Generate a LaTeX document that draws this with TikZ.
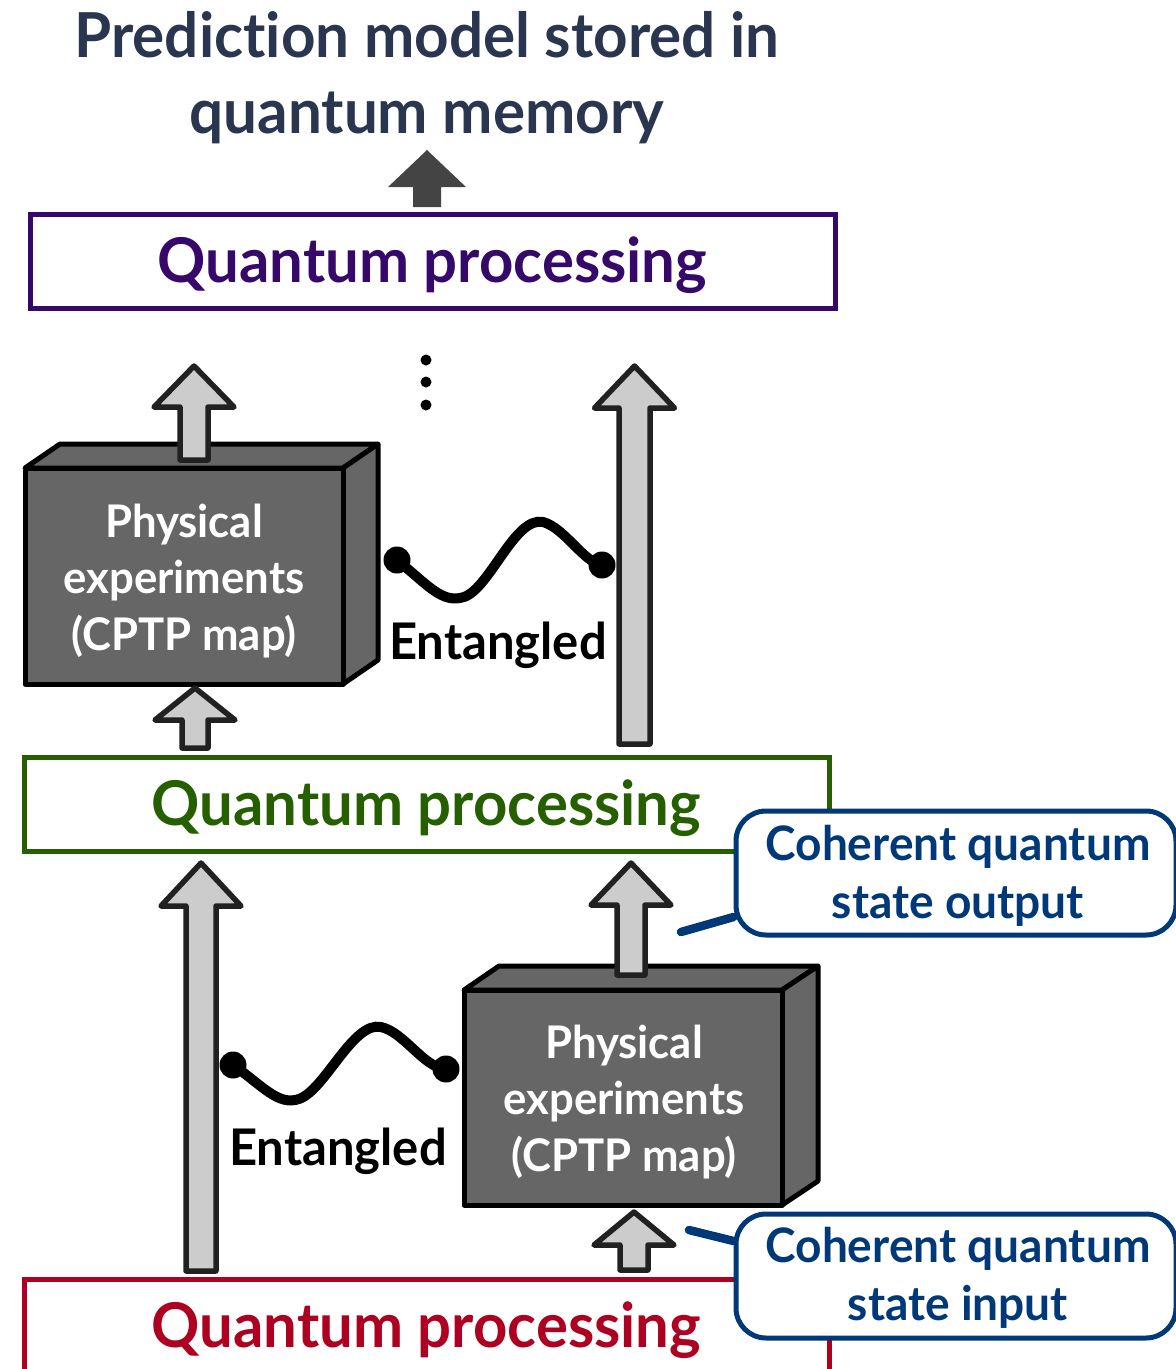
\documentclass[tikz,border=0pt]{standalone}
\usepackage{fontspec}
\setmainfont{Lato}[Ligatures=NoCommon,FakeStretch=0.97]
\definecolor{titlecol}{HTML}{2A3550}
\definecolor{purplecol}{HTML}{35086A}
\definecolor{greencol}{HTML}{255F00}
\definecolor{redcol}{HTML}{AE0020}
\definecolor{bluecol}{HTML}{003878}
\definecolor{cubegray}{HTML}{666666}
\definecolor{arrowgray}{HTML}{CCCCCC}
\definecolor{darkarrow}{HTML}{444444}
\newcommand\myblockarrow[6]{% x, ytip, yhead, ybottom, headhalf, shafthalf
  \draw[blockarrow] (#1-#6,#4) -- (#1-#6,#3) -- (#1-#5,#3) -- (#1,#2) -- (#1+#5,#3) -- (#1+#6,#3) -- (#1+#6,#4) -- cycle;}
\begin{document}
\begin{tikzpicture}[x=1pt,y=-1pt,
  blockarrow/.style={draw=black!87,fill=arrowgray,line width=5.5pt,line join=round},
  procbox/.style={draw,line width=5pt,fill=white,minimum width=805pt,minimum height=94pt,inner sep=0pt},
  proctext/.style={font=\fontsize{61.7}{70}\selectfont\bfseries,anchor=base},
  cubeface/.style={draw=black,fill=cubegray,line width=5pt,line join=round},
  cubetext/.style={text=white,font=\fontsize{45}{57}\selectfont\bfseries,anchor=base},
  entlabel/.style={font=\fontsize{50.5}{56}\selectfont\bfseries,anchor=base},
  wave/.style={line width=10pt,line cap=round},
  wavedot/.style={circle,fill=black,inner sep=0pt,minimum size=27pt},
  callout/.style={draw=bluecol,line width=5pt,fill=white,rounded corners=30pt,minimum width=440pt,minimum height=124pt,inner sep=0pt},
  callouttext/.style={text=bluecol,font=\fontsize{47.5}{60}\selectfont\bfseries,anchor=base},
  pointer/.style={draw=bluecol,line width=8.5pt,line cap=round}]
\useasboundingbox (0,0) rectangle (1176,1369);

% title
\node[font=\fontsize{62}{78}\selectfont\bfseries,text=titlecol,anchor=base] (title1) at (427,57) {Prediction model stored in};
\node[font=\fontsize{62}{78}\selectfont\bfseries,text=titlecol,anchor=base] (title2) at (427,133) {quantum memory};

% dark arrow
\fill[darkarrow] (413,207) -- (413,187) -- (388,187) -- (427,150) -- (466,187) -- (441,187) -- (441,207) -- cycle;

% processing boxes
\node[procbox,draw=purplecol] (qp3) at (432.5,261) {};
\node[proctext,text=purplecol] (qp3t) at (432.5,282) {Quantum processing};
\node[procbox,draw=greencol] (qp2) at (426.5,804) {};
\node[proctext,text=greencol] (qp2t) at (426.5,825) {Quantum processing};
\node[procbox,draw=redcol,minimum height=120pt] (qp1) at (426.5,1339) {};
\node[proctext,text=redcol] (qp1t) at (426.5,1347) {Quantum processing};

% top cube
\draw[cubeface] (25,468) -- (60,444) -- (378,444) -- (343,468) -- cycle;
\draw[cubeface] (343,468) -- (378,444) -- (378,660) -- (343,684) -- cycle;
\node[cubeface,minimum width=318pt,minimum height=216pt,inner sep=0pt] (cube2) at (184,576) {};
\node[cubetext] (c2a) at (184,537) {Physical};
\node[cubetext] (c2b) at (184,593) {experiments};
\node[cubetext] (c2c) at (184,650) {(CPTP map)};

% bottom cube
\draw[cubeface] (464,990) -- (499,966) -- (818,966) -- (782,990) -- cycle;
\draw[cubeface] (782,990) -- (818,966) -- (818,1181) -- (782,1205) -- cycle;
\node[cubeface,minimum width=318pt,minimum height=215pt,inner sep=0pt] (cube1) at (623,1097.5) {};
\node[cubetext] (c1a) at (624,1058) {Physical};
\node[cubetext] (c1b) at (624,1114) {experiments};
\node[cubetext] (c1c) at (624,1171) {(CPTP map)};

% block arrows
\myblockarrow{194}{366}{407}{460}{40}{14}
\myblockarrow{195}{688}{720}{748}{40}{13}
\myblockarrow{634.5}{366}{408}{744}{40}{15.5}
\myblockarrow{631}{863}{905}{975}{40}{14}
\myblockarrow{634}{1212}{1245}{1270}{40}{14}
\myblockarrow{201}{863}{906}{1271}{40}{15}

% dots
\fill (426,360) circle (5.5pt);
\fill (426,382) circle (5.5pt);
\fill (426,405) circle (5.5pt);

% entanglement waves
\node[wavedot] (w2a) at (397,560) {};
\node[wavedot] (w2b) at (602,565) {};
\draw[wave] (w2a.center) .. controls (428,585) and (442,604) .. (464,597) .. controls (490,588) and (515,516) .. (543,522) .. controls (565,528) and (583,562) .. (w2b.center);
\node[entlabel] (ent2) at (498,659) {Entangled};

\node[wavedot] (w1a) at (233,1065) {};
\node[wavedot] (w1b) at (446,1069) {};
\draw[wave] (w1a.center) .. controls (263,1086) and (278,1106) .. (299,1099) .. controls (325,1090) and (353,1021) .. (381,1027) .. controls (404,1032) and (424,1068) .. (w1b.center);
\node[entlabel] (ent1) at (338,1165) {Entangled};

% callouts
\node[callout] (cout) at (956,873) {};
\node[callouttext] (cout1) at (958,860) {Coherent quantum};
\node[callouttext] (cout2) at (958,918) {state output};
\node[callout] (cin) at (956,1276) {};
\node[callouttext] (cin1) at (958,1262) {Coherent quantum};
\node[callouttext] (cin2) at (958,1320) {state input};
\coordinate (pout) at (681,932);
\coordinate (pin) at (689,1230);
\draw[pointer] (pout) -- (cout.west |- 0,917);
\draw[pointer] (pin) -- (cin.west |- 0,1241);
\end{tikzpicture}
\end{document}
